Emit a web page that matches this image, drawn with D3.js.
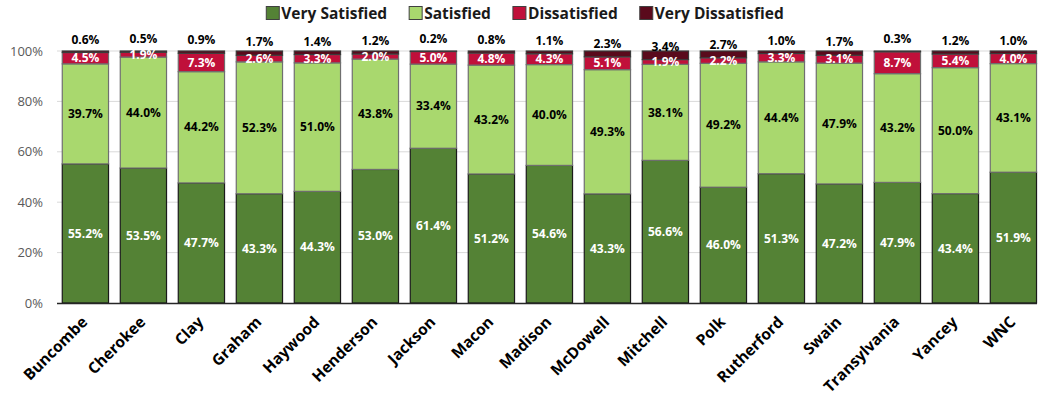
<!DOCTYPE html>
<html><head><meta charset="utf-8">
<script src="https://cdn.jsdelivr.net/npm/d3@7"></script>
<style>body{margin:0;background:#fff;}svg{display:block;font-family:"Open Sans",sans-serif;}</style>
</head><body><svg id="c" width="1050" height="397"></svg>
<script>
const categories = ["Buncombe","Cherokee","Clay","Graham","Haywood","Henderson","Jackson","Macon","Madison","McDowell","Mitchell","Polk","Rutherford","Swain","Transylvania","Yancey","WNC"];
const seriesNames = ["Very Satisfied","Satisfied","Dissatisfied","Very Dissatisfied"];
const verySatisfied = [55.2,53.5,47.7,43.3,44.3,53.0,61.4,51.2,54.6,43.3,56.6,46.0,51.3,47.2,47.9,43.4,51.9];
const satisfied = [39.7,44.0,44.2,52.3,51.0,43.8,33.4,43.2,40.0,49.3,38.1,49.2,44.4,47.9,43.2,50.0,43.1];
const dissatisfied = [4.5,1.9,7.3,2.6,3.3,2.0,5.0,4.8,4.3,5.1,1.9,2.2,3.3,3.1,8.7,5.4,4.0];
const veryDissatisfied = [0.6,0.5,0.9,1.7,1.4,1.2,0.2,0.8,1.1,2.3,3.4,2.7,1.0,1.7,0.3,1.2,1.0];
const yTicks = [0,20,40,60,80,100];

const colors = ["#548235","#a9d86e","#c0103a","#5a0a1c"];
const strokes = ["#1a1a1a","#6f6f6f","#6f6f6f","#3a3a3a"];
const labelColors = ["#ffffff","#000000","#ffffff","#000000"];

const seriesArr = [verySatisfied, satisfied, dissatisfied, veryDissatisfied];
const rows = categories.map((c,i)=>{
  const vals = seriesArr.map(s=>s[i]);
  const tot = d3.sum(vals);
  const o = {cat:c, tot};
  seriesNames.forEach((n,k)=>{o[n]=vals[k]/tot*100; o["raw"+k]=vals[k];});
  return o;
});
const stack = d3.stack().keys(seriesNames)(rows);

const svg = d3.select("#c");
const x = d3.scaleBand().domain(categories).range([56.4, 1042.4]).paddingInner(0.185).paddingOuter(0.0925);
const y = d3.scaleLinear().domain([0,100]).range([303, 51]);

// gridlines
svg.append("g").selectAll("line").data(yTicks.filter(t=>t>0)).join("line")
  .attr("x1",57).attr("x2",1037).attr("y1",d=>y(d)).attr("y2",d=>y(d))
  .attr("stroke","#d9d9d9").attr("stroke-width",1);

// y axis labels
const yAxis = d3.axisLeft(y).tickValues(yTicks).tickFormat(d=>d+"%").tickSize(0).tickPadding(0);
const ya = svg.append("g").attr("transform","translate(43,0)").call(yAxis);
ya.select(".domain").remove();
ya.selectAll("text").attr("font-size",13).attr("fill","#595959").attr("font-family","Open Sans, sans-serif");

// bars
const g = svg.append("g");
stack.forEach((layer,k)=>{
  g.append("g").selectAll("rect").data(layer).join("rect")
    .attr("x",d=>x(d.data.cat)+0.5).attr("width",x.bandwidth()-1)
    .attr("y",d=>y(d[1])).attr("height",d=>y(d[0])-y(d[1]))
    .attr("fill",colors[k]).attr("stroke",strokes[k]).attr("stroke-width",1.2);
});

// x axis line
svg.append("line").attr("x1",57).attr("x2",1037).attr("y1",303.5).attr("y2",303.5).attr("stroke","#262626").attr("stroke-width",1.5);

// data labels
stack.forEach((layer,k)=>{
  g.append("g").selectAll("text").data(layer).join("text")
    .attr("x",d=>x(d.data.cat)+x.bandwidth()/2)
    .attr("y",d=> k===3 ? y(d[0])-13 : (y(d[0])+y(d[1]))/2)
    .attr("dy","0.35em")
    .attr("text-anchor","middle").attr("font-size",12).attr("font-weight","bold")
    .attr("fill",labelColors[k])
    .text(d=>d.data["raw"+k].toFixed(1)+"%");
});

// x labels
svg.append("g").selectAll("text").data(categories).join("text")
  .attr("transform",d=>`translate(${x(d)+x.bandwidth()/2+3},${323}) rotate(-45)`)
  .attr("text-anchor","end").attr("font-size",15.5).attr("font-weight","bold").attr("fill","#000")
  .text(d=>d);

// legend
const lg = svg.append("g");
let cx = 0;
seriesNames.forEach((n,k)=>{
  const it = lg.append("g").attr("transform",`translate(${cx},0)`);
  it.append("rect").attr("x",0).attr("y",6.5).attr("width",13).attr("height",13)
    .attr("fill",colors[k]).attr("stroke","#404040").attr("stroke-width",1);
  const t = it.append("text").attr("x",15).attr("y",19).attr("font-size",15.5).attr("font-weight","bold").attr("fill","#1a1a1a").text(n);
  const w = t.node().getComputedTextLength();
  cx += 15 + w + 22;
});
const total = cx - 22;
lg.attr("transform",`translate(${525-total/2},0)`);
</script></body></html>
